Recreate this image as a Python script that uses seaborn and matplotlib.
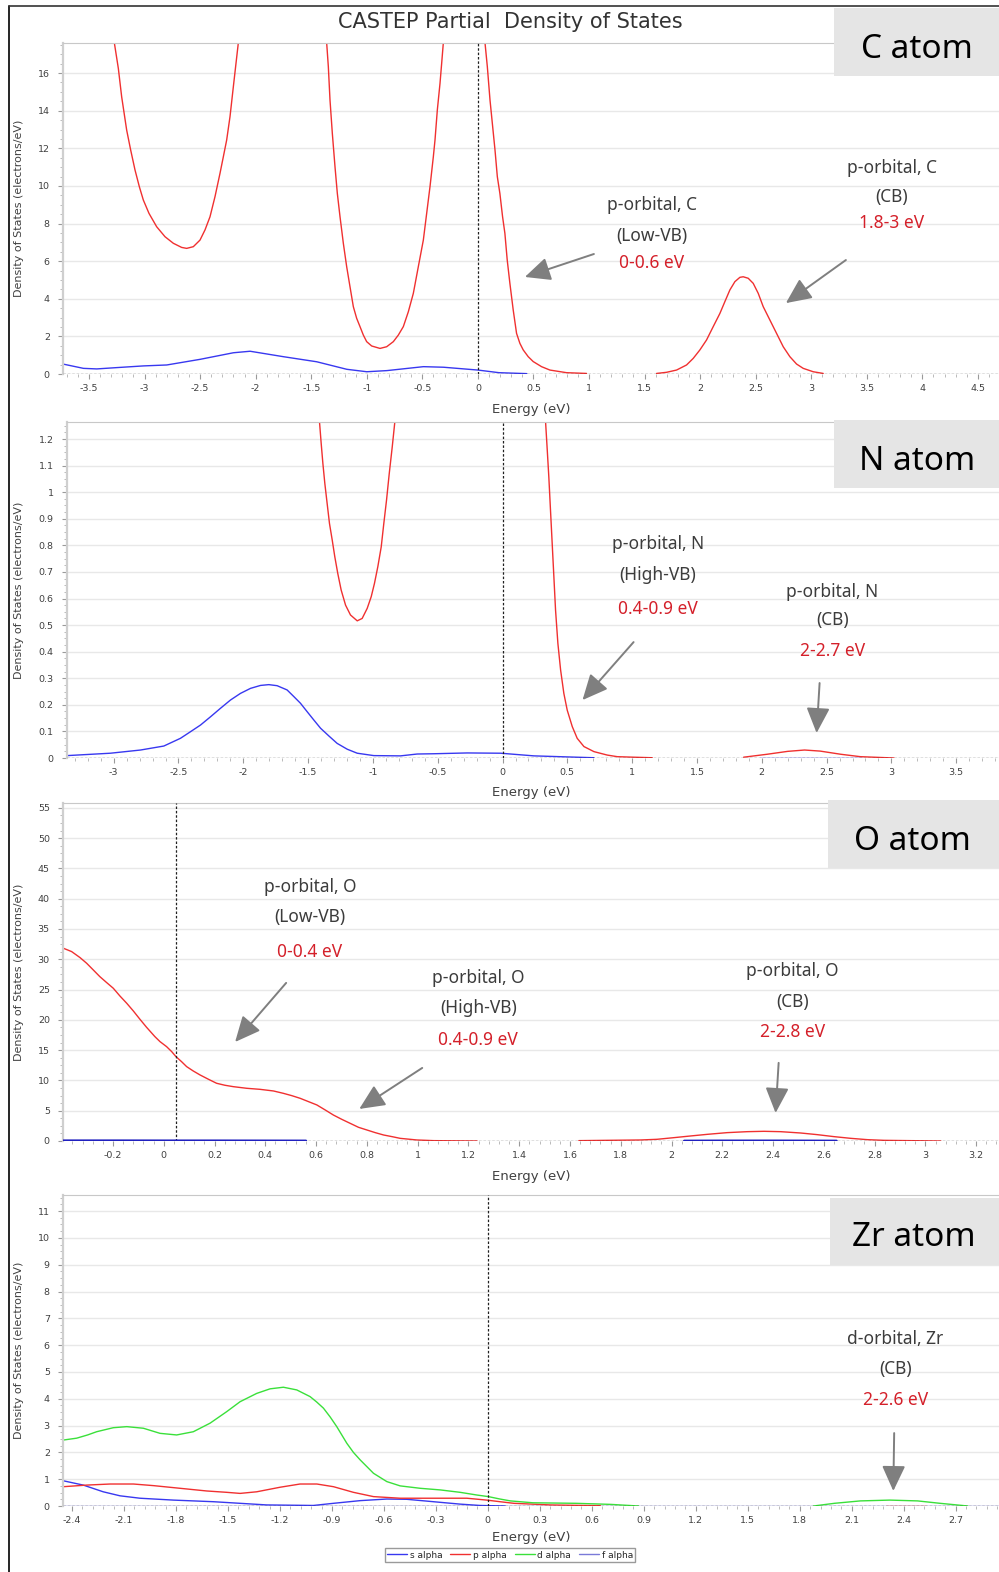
import numpy as np
import pandas as pd
import matplotlib
matplotlib.use("Agg")
import matplotlib.pyplot as plt
from matplotlib.ticker import MultipleLocator, AutoMinorLocator, FuncFormatter
from matplotlib.patches import Rectangle
from matplotlib.lines import Line2D
import seaborn as sns

nan = np.nan

# ---------------- partial DOS values (energy in eV, DOS in electrons/eV) ----------------
# NaN separates pieces of a curve that leave the plotted range.

# C atom
C_S_E = [-3.735, -3.55, -3.43, -3.25, -3.01, -2.80, -2.50, -2.20, -2.05, -1.75, -1.45,
         -1.18, -1.0, -0.82, -0.49, -0.31, 0.0, 0.19, 0.44]
C_S_DOS = [0.53, 0.30, 0.27, 0.34, 0.43, 0.48, 0.78, 1.13, 1.21, 0.92, 0.65,
           0.25, 0.12, 0.18, 0.39, 0.36, 0.21, 0.07, 0.02]
C_P_E = [-3.272, -3.236, -3.206, -3.161, -3.125, -3.086, -3.047, -3.011, -2.960, -2.891,
         -2.816, -2.741, -2.666, -2.621, -2.561, -2.501, -2.456, -2.411, -2.366, -2.321,
         -2.291, -2.261, -2.231, -2.201, -2.177, -2.156, nan,
         -1.361, -1.346, -1.331, -1.310, -1.286, -1.265, -1.241, -1.211, -1.181, -1.151,
         -1.121, -1.091, -1.061, -1.031, -1.001, -0.956, -0.881, -0.821, -0.761, -0.716,
         -0.671, -0.626, -0.581, -0.536, -0.491, -0.461, -0.431, -0.401, -0.386, -0.365,
         -0.341, -0.326, -0.311, nan,
         0.064, 0.085, 0.109, 0.133, 0.154, 0.175, 0.198, 0.222, 0.243, 0.264, 0.288,
         0.318, 0.348, 0.378, 0.408, 0.453, 0.498, 0.573, 0.648, 0.798, 0.978, nan,
         1.608, 1.698, 1.788, 1.878, 1.938, 1.998, 2.058, 2.118, 2.178, 2.223, 2.268,
         2.313, 2.358, 2.388, 2.433, 2.478, 2.523, 2.568, 2.628, 2.688, 2.748, 2.808,
         2.868, 2.928, 3.018, 3.108]
C_P_DOS = [17.61, 16.25, 14.74, 12.97, 11.91, 10.85, 9.96, 9.25, 8.54, 7.83,
           7.30, 6.95, 6.73, 6.68, 6.77, 7.12, 7.66, 8.36, 9.43, 10.67,
           11.55, 12.44, 13.68, 15.27, 16.52, 17.61, nan,
           17.61, 16.34, 14.57, 12.79, 11.02, 9.60, 8.37, 6.95, 5.71, 4.64,
           3.58, 2.96, 2.52, 2.07, 1.72, 1.49, 1.36, 1.45, 1.72, 2.07,
           2.52, 3.31, 4.29, 5.71, 7.12, 8.54, 9.96, 11.55, 12.44, 14.04,
           15.45, 16.52, 17.61, nan,
           17.61, 16.34, 14.57, 13.15, 11.91, 10.49, 9.60, 8.37, 7.48, 6.06, 4.82,
           3.40, 2.16, 1.63, 1.28, 0.92, 0.66, 0.39, 0.21, 0.07, 0.03, nan,
           0.03, 0.09, 0.21, 0.48, 0.83, 1.28, 1.81, 2.52, 3.22, 3.85, 4.47,
           4.91, 5.14, 5.17, 5.09, 4.82, 4.29, 3.58, 2.87, 2.16, 1.45, 0.92,
           0.53, 0.30, 0.12, 0.03]

# N atom
N_S_E = [-3.359, -3.025, -2.793, -2.613, -2.485, -2.407, -2.330, -2.253, -2.176, -2.099,
         -2.022, -1.944, -1.867, -1.803, -1.739, -1.662, -1.610, -1.559, -1.507, -1.456,
         -1.404, -1.340, -1.276, -1.198, -1.121, -0.993, -0.787, -0.658, -0.530, -0.273,
         -0.015, 0.242, 0.705, nan,
         1.99, 2.77]
N_S_DOS = [0.009, 0.018, 0.030, 0.045, 0.074, 0.099, 0.124, 0.155, 0.187, 0.218,
           0.243, 0.262, 0.273, 0.276, 0.272, 0.256, 0.231, 0.206, 0.174, 0.143,
           0.112, 0.083, 0.055, 0.033, 0.018, 0.009, 0.008, 0.015, 0.016, 0.019,
           0.018, 0.008, 0.001, nan,
           0.001, 0.001]
N_P_E = [-1.412, -1.399, -1.386, -1.371, -1.353, -1.335, -1.314, -1.294, -1.271, -1.245,
         -1.211, -1.173, -1.121, -1.083, -1.044, -1.013, -0.988, -0.962, -0.936, -0.916,
         -0.895, -0.874, -0.851, -0.831, nan,
         0.332, 0.345, 0.357, 0.370, 0.383, 0.396, 0.409, 0.427, 0.448, 0.473, 0.499,
         0.538, 0.576, 0.628, 0.705, 0.808, 0.885, 1.013, 1.155, nan,
         1.86, 2.04, 2.20, 2.33, 2.45, 2.61, 2.76, 3.02]
N_P_DOS = [1.264, 1.183, 1.108, 1.033, 0.957, 0.882, 0.820, 0.757, 0.694, 0.632,
           0.575, 0.538, 0.516, 0.525, 0.563, 0.607, 0.657, 0.720, 0.794, 0.882,
           0.970, 1.070, 1.170, 1.264, nan,
           1.264, 1.158, 1.058, 0.932, 0.807, 0.682, 0.556, 0.431, 0.331, 0.243, 0.180,
           0.118, 0.074, 0.043, 0.024, 0.011, 0.005, 0.003, 0.001, nan,
           0.003, 0.014, 0.025, 0.030, 0.026, 0.014, 0.005, 0.0]

# O atom
O_S_E = [-0.396, -0.2, 0.0, 0.2, 0.4, 0.56, nan, 2.05, 2.2, 2.4, 2.65]
O_S_DOS = [0.06, 0.06, 0.05, 0.05, 0.04, 0.03, nan, 0.02, 0.04, 0.04, 0.02]
O_P_E = [-0.396, -0.363, -0.330, -0.304, -0.278, -0.252, -0.225, -0.199, -0.173, -0.146,
         -0.120, -0.094, -0.068, -0.035, -0.015, 0.011, 0.031, 0.048, 0.070, 0.090,
         0.116, 0.143, 0.176, 0.208, 0.241, 0.274, 0.327, 0.379, 0.432, 0.471, 0.504,
         0.537, 0.570, 0.603, 0.636, 0.668, 0.701, 0.734, 0.767, 0.800, 0.833, 0.866,
         0.899, 0.931, 0.997, 1.063, 1.234, nan,
         1.635, 1.878, 1.943, 2.009, 2.075, 2.141, 2.219, 2.298, 2.364, 2.430, 2.509,
         2.574, 2.640, 2.706, 2.772, 2.837, 3.061]
O_P_DOS = [31.83, 31.27, 30.28, 29.35, 28.25, 27.14, 26.15, 25.22, 23.95, 22.74,
           21.47, 20.10, 18.78, 17.23, 16.41, 15.58, 14.76, 13.93, 13.10, 12.28,
           11.56, 10.90, 10.19, 9.53, 9.20, 8.97, 8.70, 8.53, 8.26, 7.87, 7.49,
           7.05, 6.50, 5.95, 5.12, 4.29, 3.58, 2.92, 2.26, 1.82, 1.38, 0.99,
           0.72, 0.44, 0.17, 0.06, 0.0, nan,
           0.06, 0.17, 0.28, 0.55, 0.83, 1.10, 1.38, 1.54, 1.60, 1.54, 1.32,
           1.05, 0.72, 0.44, 0.22, 0.11, 0.0]

# Zr atom
ZR_S_E = [-2.45, -2.335, -2.22, -2.123, -2.008, -1.815, -1.584, -1.43, -1.276, -1.007,
          -0.891, -0.737, -0.583, -0.468, -0.314, -0.16, -0.045, 0.1]
ZR_S_DOS = [0.94, 0.78, 0.53, 0.38, 0.29, 0.22, 0.16, 0.10, 0.04, 0.02,
            0.10, 0.20, 0.26, 0.25, 0.16, 0.07, 0.02, 0.0]
ZR_P_E = [-2.45, -2.315, -2.18, -2.046, -1.93, -1.776, -1.622, -1.507, -1.43, -1.334,
          -1.199, -1.084, -0.987, -0.891, -0.776, -0.66, -0.506, -0.314, -0.121, -0.006,
          0.07, 0.15, 0.36, 0.65, nan, 2.30, 2.53]
ZR_P_DOS = [0.72, 0.78, 0.82, 0.82, 0.76, 0.66, 0.56, 0.51, 0.47, 0.53,
            0.70, 0.82, 0.82, 0.72, 0.51, 0.35, 0.29, 0.29, 0.29, 0.22,
            0.16, 0.10, 0.04, 0.01, nan, 0.0, 0.0]
ZR_D_E = [-2.45, -2.373, -2.310, -2.258, -2.162, -2.084, -1.988, -1.892, -1.796, -1.70,
          -1.603, -1.507, -1.43, -1.334, -1.257, -1.18, -1.103, -1.026, -0.988, -0.949,
          -0.910, -0.872, -0.814, -0.776, -0.737, -0.66, -0.583, -0.506, -0.39, -0.275,
          -0.16, -0.064, 0.003, 0.07, 0.13, 0.26, 0.51, 0.71, 0.87, nan,
          1.88, 2.0, 2.15, 2.32, 2.48, 2.61, 2.77]
ZR_D_DOS = [2.46, 2.53, 2.65, 2.77, 2.92, 2.96, 2.90, 2.71, 2.65, 2.77,
            3.09, 3.52, 3.89, 4.20, 4.37, 4.43, 4.33, 4.08, 3.88, 3.65,
            3.32, 2.96, 2.34, 2.00, 1.72, 1.22, 0.91, 0.75, 0.66, 0.60,
            0.51, 0.41, 0.35, 0.26, 0.19, 0.12, 0.10, 0.06, 0.0, nan,
            0.0, 0.10, 0.19, 0.22, 0.19, 0.10, 0.0]
ZR_F_E = [-2.45, -1.2, 0.0, 1.2, 2.95]
ZR_F_DOS = [0.0, 0.0, 0.0, 0.0, 0.0]

ORBITAL_LABELS = ["s alpha", "p alpha", "d alpha", "f alpha"]
ORBITAL_COLORS = {"s": "#3838f0", "p": "#f03030", "d": "#3ae03a", "f": "#7a7ad8"}

# ---------------- figure setup ----------------
sns.set_theme(style="white")
plt.rcParams["font.family"] = ["DejaVu Sans"]
plt.rcParams["axes.unicode_minus"] = False

W, H = 999, 1572
fig = plt.figure(figsize=(W / 100, H / 100), dpi=100)
fig.patch.set_facecolor("white")


def fx(px):
    return px / W


def fy(py):
    return 1 - py / H


def curve_frame(e, dos):
    df = pd.DataFrame({"energy": e, "dos": dos})
    df["seg"] = df["energy"].isna().cumsum()
    return df.dropna()


def draw_curve(ax, e, dos, color, z=2.0, lw=1.0):
    sns.lineplot(data=curve_frame(e, dos), x="energy", y="dos", units="seg",
                 estimator=None, sort=False, color=color, lw=lw, ax=ax,
                 zorder=z, legend=False)


def fmt(v, _):
    s = f"{v:.2f}".rstrip("0").rstrip(".")
    return "0" if s in ("-0", "") else s


TEXT_DARK = "#3c3c3c"
TEXT_RED = "#d4202a"
ANNOT_FONT = ["Noto Sans", "DejaVu Sans"]


def annotate(ax, x, ys, lines, start, tip):
    colors = [TEXT_DARK, TEXT_DARK, TEXT_RED]
    for y, t, c in zip(ys, lines, colors):
        ax.text(x, y, t, ha="center", va="center", fontsize=12.5, color=c,
                family=ANNOT_FONT, zorder=6)
    ax.annotate("", xy=tip, xytext=start,
                arrowprops=dict(arrowstyle="-|>,head_length=1.3,head_width=0.6",
                                color="#7f7f7f", lw=1.4, shrinkA=0, shrinkB=0),
                zorder=6)


def setup_axes(left, top, bottom, xlim, ylim, xstep, ystep, fermi, xlabel_y):
    ax = fig.add_axes([fx(left), fy(bottom), (W - left) / W, (bottom - top) / H])
    ax.set_xlim(*xlim)
    ax.set_ylim(*ylim)
    ax.xaxis.set_major_locator(MultipleLocator(xstep))
    ax.xaxis.set_minor_locator(AutoMinorLocator(5))
    ax.yaxis.set_major_locator(MultipleLocator(ystep))
    ax.yaxis.set_minor_locator(AutoMinorLocator(4))
    ax.xaxis.set_major_formatter(FuncFormatter(fmt))
    ax.yaxis.set_major_formatter(FuncFormatter(fmt))
    ax.tick_params(axis="both", which="major", direction="out", length=3.5, width=0.8,
                   color="#9a9a9a", labelsize=6.8, labelcolor="#404040")
    ax.tick_params(axis="both", which="minor", direction="out", length=2, width=0.6,
                   color="#b0b0b0")
    ax.tick_params(axis="x", which="major", pad=4)
    ax.tick_params(axis="y", which="major", pad=6)
    ax.tick_params(left=True, bottom=True, which="both")
    ax.grid(axis="y", which="major", color="#e8e8e8", lw=1.0, zorder=0)
    ax.grid(axis="x", visible=False)
    ax.set_axisbelow(True)
    ax.spines["right"].set_visible(False)
    ax.spines["left"].set_color("#cfcfcf")
    ax.spines["left"].set_linewidth(1.6)
    ax.spines["top"].set_color("#c8c8c8")
    ax.spines["top"].set_linewidth(0.8)
    ax.spines["top"].set_linestyle((0, (1, 1)))
    ax.spines["bottom"].set_visible(False)
    ax.axhline(0, color="#303030", lw=0.9, ls=(0, (2, 1.5)), zorder=3)
    ax.axvline(fermi, color="#202020", lw=0.9, ls=(0, (2, 1.5)), zorder=3)
    ax.set_xlabel("Energy (eV)", fontsize=9.5, color="#404040")
    ax.set_ylabel("Density of States (electrons/eV)", fontsize=8, color="#404040")
    pw = W - left
    ph = bottom - top
    ax.xaxis.set_label_coords((531 - left) / pw, -(xlabel_y - bottom) / ph)
    ax.yaxis.set_label_coords((24 - left) / pw, 0.5)
    return ax


def atom_box(x0, x1, y0, y1, label, tx, ty):
    fig.add_artist(Rectangle((fx(x0), fy(y1)), (x1 - x0) / W, (y1 - y0) / H,
                             transform=fig.transFigure, facecolor="#e5e5e5",
                             edgecolor="none", zorder=5))
    fig.text(fx(tx), fy(ty), label, ha="center", va="center", fontsize=24,
             color="black", family=ANNOT_FONT, zorder=6)


# ---------------- C atom ----------------
ax_c = setup_axes(63, 43, 374, (-3.734, 4.69), (0, 17.6), 0.5, 2, 0.0, 403)
draw_curve(ax_c, C_S_E, C_S_DOS, ORBITAL_COLORS["s"])
draw_curve(ax_c, C_P_E, C_P_DOS, ORBITAL_COLORS["p"])
annotate(ax_c, 1.566, [8.98, 7.34, 5.90], ["p-orbital, C", "(Low-VB)", "0-0.6 eV"],
         (1.044, 6.38), (0.423, 5.16))
annotate(ax_c, 3.726, [10.95, 9.41, 8.03], ["p-orbital, C", "(CB)", "1.8-3 eV"],
         (3.312, 6.06), (2.772, 3.77))

# ---------------- N atom ----------------
ax_n = setup_axes(67, 422, 758, (-3.36, 3.83), (0, 1.264), 0.5, 0.1, 0.0, 786)
draw_curve(ax_n, N_S_E, N_S_DOS, ORBITAL_COLORS["s"])
draw_curve(ax_n, N_P_E, N_P_DOS, ORBITAL_COLORS["p"])
annotate(ax_n, 1.196, [0.805, 0.688, 0.560], ["p-orbital, N", "(High-VB)", "0.4-0.9 eV"],
         (1.011, 0.436), (0.617, 0.218))
annotate(ax_n, 2.546, [0.624, 0.519, 0.402], ["p-orbital, N", "(CB)", "2-2.7 eV"],
         (2.446, 0.282), (2.423, 0.094))

# ---------------- O atom ----------------
ax_o = setup_axes(63, 803, 1141, (-0.397, 3.29), (0, 55.8), 0.2, 5, 0.048, 1170)
draw_curve(ax_o, O_S_E, O_S_DOS, "#2020c0", z=4, lw=1.8)
draw_curve(ax_o, O_P_E, O_P_DOS, ORBITAL_COLORS["p"])
annotate(ax_o, 0.576, [41.96, 37.0, 31.2], ["p-orbital, O", "(Low-VB)", "0-0.4 eV"],
         (0.482, 26.1), (0.281, 16.35))
annotate(ax_o, 1.239, [26.9, 22.0, 16.7], ["p-orbital, O", "(High-VB)", "0.4-0.9 eV"],
         (1.018, 12.06), (0.77, 5.29))
annotate(ax_o, 2.477, [28.1, 22.96, 18.0], ["p-orbital, O", "(CB)", "2-2.8 eV"],
         (2.422, 12.9), (2.41, 4.63))

# ---------------- Zr atom ----------------
ax_z = setup_axes(63, 1195, 1506, (-2.452, 2.95), (0, 11.6), 0.3, 1, 0.0, 1531)
draw_curve(ax_z, ZR_F_E, ZR_F_DOS, ORBITAL_COLORS["f"], z=1.5)
draw_curve(ax_z, ZR_S_E, ZR_S_DOS, ORBITAL_COLORS["s"])
draw_curve(ax_z, ZR_P_E, ZR_P_DOS, ORBITAL_COLORS["p"])
draw_curve(ax_z, ZR_D_E, ZR_D_DOS, ORBITAL_COLORS["d"])
annotate(ax_z, 2.352, [6.23, 5.11, 3.96], ["d-orbital, Zr", "(CB)", "2-2.6 eV"],
         (2.345, 2.72), (2.34, 0.56))

# ---------------- labels, title, frame, legend ----------------
atom_box(834, 999, 8, 76, "C atom", 917, 49)
atom_box(834, 999, 420, 488, "N atom", 917, 461)
atom_box(828, 999, 800, 868, "O atom", 912, 842)
atom_box(830, 999, 1198, 1265, "Zr atom", 914, 1238)

fig.text(fx(510), fy(22), "CASTEP Partial  Density of States", ha="center", va="center",
         fontsize=15, color="#333333")

fig.add_artist(Line2D([fx(9), fx(9)], [fy(6), fy(1572)], color="black", lw=1.2,
                      transform=fig.transFigure, zorder=7))
fig.add_artist(Line2D([fx(9), fx(999)], [fy(6), fy(6)], color="#333333", lw=1.2,
                      transform=fig.transFigure, zorder=7))

handles = [Line2D([], [], color=ORBITAL_COLORS[k], lw=1.0) for k in "spdf"]
fig.legend(handles, ORBITAL_LABELS, loc="center", bbox_to_anchor=(fx(510), fy(1555)),
           ncol=4, frameon=True, fancybox=False, edgecolor="#9a9a9a", fontsize=6.5,
           handlelength=2.2, handletextpad=0.3, columnspacing=0.9, borderpad=0.25,
           framealpha=1.0)

fig.savefig("out.png", dpi=100, facecolor="white")
